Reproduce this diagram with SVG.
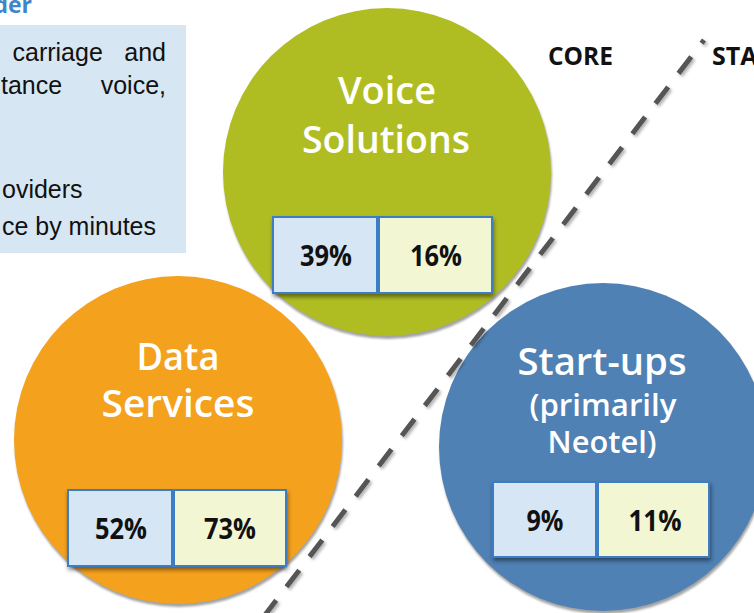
<svg xmlns="http://www.w3.org/2000/svg" width="754" height="613" viewBox="0 0 754 613">
<defs>
<filter id="boxsh" x="-10%" y="-10%" width="130%" height="140%">
<feDropShadow dx="1" dy="3" stdDeviation="2" flood-color="#000" flood-opacity="0.45"/>
</filter>
<filter id="linesh" x="-10%" y="-10%" width="120%" height="120%">
<feDropShadow dx="2" dy="2" stdDeviation="1.5" flood-color="#000" flood-opacity="0.3"/>
</filter>
<filter id="circsh" x="-10%" y="-10%" width="120%" height="120%">
<feGaussianBlur stdDeviation="0.8"/>
</filter>
</defs>
<style>
.body{font-family:"Liberation Sans",Arial,sans-serif;font-size:25px;fill:#111}
.title{font-family:"Open Sans","Noto Sans",sans-serif;font-weight:600;fill:#fff;text-anchor:middle}
.pct{font-family:"Open Sans","Noto Sans",sans-serif;font-weight:700;font-size:29px;fill:#111;text-anchor:middle}
.lbl{font-family:"Open Sans","Noto Sans",sans-serif;font-weight:700;font-size:25px;fill:#111}
.bl{fill:#D6E6F4;stroke:#3C7DC4;stroke-width:2}
.yl{fill:#F3F6D3;stroke:#3C7DC4;stroke-width:2}
.rim{fill:#A3A3A3}
</style>
<rect width="754" height="613" fill="#fff"/>

<g id="textbox">
<text x="32" y="13" text-anchor="end" font-family="'Open Sans','Noto Sans',sans-serif" font-weight="700" font-size="23" fill="#3E86C8">der</text>
<rect x="0" y="25" width="186" height="228" fill="#D7E6F3"/>
<text class="body" x="12.5" y="61">carriage</text>
<text class="body" x="166" y="61" text-anchor="end">and</text>
<text class="body" x="1" y="94">tance</text>
<text class="body" x="166" y="94" text-anchor="end">voice,</text>
<text class="body" x="2" y="198">oviders</text>
<text class="body" x="2" y="235" textLength="154" lengthAdjust="spacingAndGlyphs">ce by minutes</text>
</g>

<g id="voice">
<circle class="rim" cx="388" cy="175" r="164" filter="url(#circsh)"/>
<circle cx="387" cy="172" r="164" fill="#AFBD22"/>
<text class="title" x="387" y="104" font-size="38" textLength="98" lengthAdjust="spacingAndGlyphs">Voice</text>
<text class="title" x="386" y="153" font-size="38" textLength="168" lengthAdjust="spacingAndGlyphs">Solutions</text>
<g filter="url(#boxsh)">
<rect class="bl" x="273" y="217" width="104" height="76"/>
<rect class="yl" x="379" y="217" width="113" height="76"/>
</g>
<text class="pct" x="326" y="266" textLength="52" lengthAdjust="spacingAndGlyphs">39%</text>
<text class="pct" x="436" y="266" textLength="52" lengthAdjust="spacingAndGlyphs">16%</text>
</g>

<g id="data">
<circle class="rim" cx="179" cy="443" r="164" filter="url(#circsh)"/>
<circle cx="178" cy="440" r="164" fill="#F4A11D"/>
<text class="title" x="178" y="370" font-size="38" textLength="83" lengthAdjust="spacingAndGlyphs">Data</text>
<text class="title" x="178" y="417" font-size="38" textLength="153" lengthAdjust="spacingAndGlyphs">Services</text>
<g filter="url(#boxsh)">
<rect class="bl" x="68" y="490" width="104" height="76"/>
<rect class="yl" x="174" y="490" width="112" height="76"/>
</g>
<text class="pct" x="121" y="539" textLength="52" lengthAdjust="spacingAndGlyphs">52%</text>
<text class="pct" x="230" y="539" textLength="52" lengthAdjust="spacingAndGlyphs">73%</text>
</g>

<g id="startups">
<circle class="rim" cx="604" cy="450" r="164" filter="url(#circsh)"/>
<circle cx="603" cy="447" r="164" fill="#4F81B4"/>
<text class="title" x="602" y="375" font-size="38" textLength="169" lengthAdjust="spacingAndGlyphs">Start-ups</text>
<text class="title" x="603" y="416" font-size="30" textLength="147" lengthAdjust="spacingAndGlyphs">(primarily</text>
<text class="title" x="602" y="453" font-size="30" textLength="109" lengthAdjust="spacingAndGlyphs">Neotel)</text>
<g filter="url(#boxsh)">
<rect class="bl" x="493" y="482" width="103" height="75"/>
<rect class="yl" x="598" y="482" width="111" height="75"/>
</g>
<text class="pct" x="545" y="531" textLength="37" lengthAdjust="spacingAndGlyphs">9%</text>
<text class="pct" x="655" y="531" textLength="53" lengthAdjust="spacingAndGlyphs">11%</text>
</g>

<g id="labels">
<text class="lbl" x="548" y="65" textLength="65" lengthAdjust="spacingAndGlyphs">CORE</text>
<text class="lbl" x="712" y="65">STA</text>
</g>

<g id="connectors">
<line x1="704" y1="40" x2="265" y2="615" stroke="#555" stroke-width="5" stroke-dasharray="21 17" stroke-dashoffset="17" filter="url(#linesh)"/>
</g>
</svg>
